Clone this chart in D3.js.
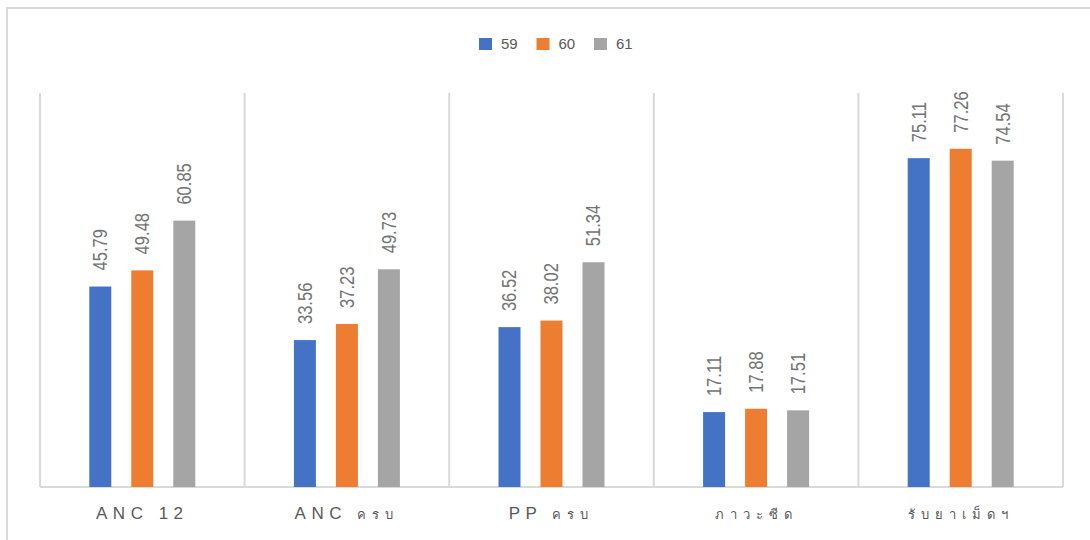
<!DOCTYPE html>
<html>
<head>
<meta charset="utf-8">
<script src="https://cdn.jsdelivr.net/npm/d3@7"></script>
<style>
  html, body { margin: 0; padding: 0; background: #fff; }
  svg { display: block; }
</style>
</head>
<body>
<svg id="chart" width="1090" height="540"></svg>
<script>
// Indicator categories and yearly series
const categories = ["ANC 12", "ANC ครบ", "PP ครบ", "ภาวะซีด", "รับยาเม็ดฯ"];
const seriesNames = ["59", "60", "61"];
const values59 = [45.79, 33.56, 36.52, 17.11, 75.11];
const values60 = [49.48, 37.23, 38.02, 17.88, 77.26];
const values61 = [60.85, 49.73, 51.34, 17.51, 74.54];
const seriesColors = ["#4472C4", "#ED7D31", "#A5A5A5"];
const yMax = 90;

const series = [values59, values60, values61];
const svg = d3.select("#chart");
const W = 1090, H = 540;
const plot = { left: 40, right: 1063, top: 93, bottom: 487 };
const gridColor = "#d9d9d9";

// Outer chart frame (top and left edges visible)
svg.append("path")
  .attr("d", `M7,${H} L7,8 L${W},8`)
  .attr("fill", "none")
  .attr("stroke", gridColor)
  .attr("stroke-width", 2);

const x0 = d3.scaleBand().domain(categories).range([plot.left, plot.right]).padding(0);
const half = x0.bandwidth() / 2;
const x1 = d3.scaleBand().domain(seriesNames).range([half - 53, half + 53]).paddingInner(20 / 42).paddingOuter(0);
const y = d3.scaleLinear().domain([0, yMax]).range([plot.bottom, plot.top]);

// Vertical separators between categories
const bounds = categories.map(c => x0(c)).concat([plot.right]);
svg.append("g").selectAll("line").data(bounds).join("line")
  .attr("x1", d => d).attr("x2", d => d)
  .attr("y1", plot.top).attr("y2", plot.bottom)
  .attr("stroke", gridColor).attr("stroke-width", 2);

// Baseline axis
svg.append("line")
  .attr("x1", plot.left).attr("x2", plot.right)
  .attr("y1", plot.bottom).attr("y2", plot.bottom)
  .attr("stroke", gridColor).attr("stroke-width", 2);

// Bars and rotated value labels
const groups = svg.append("g").selectAll("g").data(categories).join("g")
  .attr("transform", c => `translate(${x0(c)},0)`);

groups.each(function (c, ci) {
  const g = d3.select(this);
  seriesNames.forEach((s, si) => {
    const v = series[si][ci];
    const bx = x1(s);
    g.append("rect")
      .attr("x", bx).attr("width", x1.bandwidth())
      .attr("y", y(v)).attr("height", y(0) - y(v))
      .attr("fill", seriesColors[si]);
    const cx = bx + x1.bandwidth() / 2;
    const ty = y(v) - 16;
    g.append("text")
      .attr("transform", `translate(${cx},${ty}) rotate(-90) scale(0.92,1.1)`)
      .attr("dy", "0.35em")
      .attr("text-anchor", "start")
      .attr("font-family", "'Liberation Sans', Arial, sans-serif")
      .attr("font-size", 18)
      .attr("fill", "#737373")
      .text(v.toFixed(2));
  });
});

// Category labels with wide letter spacing; Thai runs are set smaller
const thaiRe = /[\u0E00-\u0E7F]+/g;
function runs(label) {
  const out = [];
  let last = 0, m;
  thaiRe.lastIndex = 0;
  while ((m = thaiRe.exec(label)) !== null) {
    if (m.index > last) out.push({ t: label.slice(last, m.index), thai: false });
    out.push({ t: m[0], thai: true });
    last = m.index + m[0].length;
  }
  if (last < label.length) out.push({ t: label.slice(last), thai: false });
  return out;
}

const catLabels = svg.append("g").selectAll("text").data(categories).join("text")
  .attr("x", c => x0(c) + half)
  .attr("y", 519)
  .attr("text-anchor", "middle")
  .attr("font-family", "'Liberation Sans', Arial, sans-serif")
  .attr("font-size", 17)
  .attr("letter-spacing", 5.5)
  .attr("fill", "#595959");

catLabels.each(function (c) {
  const t = d3.select(this);
  runs(c).forEach(r => {
    t.append("tspan")
      .attr("font-size", r.thai ? 13 : 17)
      .attr("letter-spacing", r.thai ? 6 : 5.5)
      .text(r.t);
  });
});

// Legend
const legend = svg.append("g").selectAll("g").data(seriesNames).join("g")
  .attr("transform", (d, i) => `translate(${479 + i * 57.5},38)`);
legend.append("rect").attr("width", 13).attr("height", 12).attr("fill", (d, i) => seriesColors[i]);
legend.append("text")
  .attr("x", 22).attr("y", 6).attr("dy", "0.35em")
  .attr("font-family", "'Liberation Sans', Arial, sans-serif")
  .attr("font-size", 15)
  .attr("fill", "#595959")
  .text(d => d);
</script>
</body>
</html>
